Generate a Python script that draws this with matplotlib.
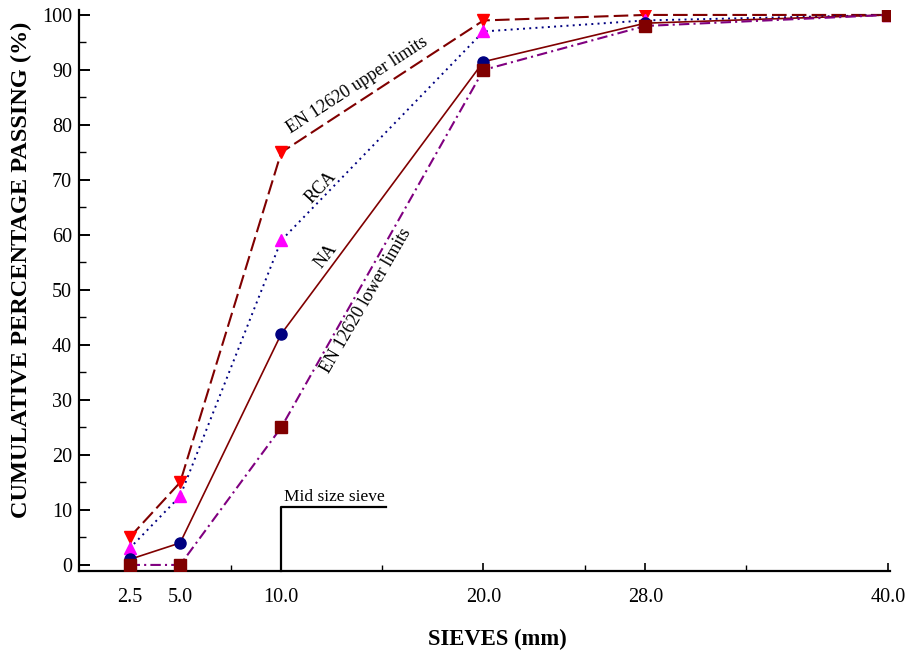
import matplotlib
matplotlib.use("Agg")
import matplotlib.pyplot as plt

sieves = [2.5, 5.0, 10.0, 20.0, 28.0, 40.0]
upper_limits = [5, 15, 75, 99, 100, 100]
rca = [3, 12.5, 59, 97, 99, 100]
na = [1, 4, 42, 91.5, 98.5, 100]
lower_limits = [0, 0, 25, 90, 98, 100]
x_tick_labels = ["2.5", "5.0", "10.0", "20.0", "28.0", "40.0"]
x_minor = [7.5, 15, 25, 33]
y_ticks = list(range(0, 101, 10))

plt.rcParams['font.family'] = ['Liberation Serif', 'DejaVu Serif']

fig = plt.figure(figsize=(9.1, 6.53), dpi=100)
ax = fig.add_axes([0.0868, 0.1256, 0.8912, 0.8591])

ax.plot(sieves, upper_limits, color='#800000', linestyle=(0, (7, 2.5)), lw=1.5,
        marker='v', markersize=8, markerfacecolor='#FF0000', markeredgecolor='#FF0000', zorder=3)
ax.plot(sieves, rca, color='#000080', linestyle=(0, (1, 2.2)), lw=1.4,
        marker='^', markersize=8, markerfacecolor='#FF00FF', markeredgecolor='#FF00FF', zorder=3)
ax.plot(sieves, na, color='#800000', linestyle='-', lw=1.2,
        marker='o', markersize=8, markerfacecolor='#000080', markeredgecolor='#000080', zorder=4)
ax.plot(sieves, lower_limits, color='#800080', linestyle=(0, (5, 2, 1, 2)), lw=1.5,
        marker='s', markersize=8, markerfacecolor='#800000', markeredgecolor='#800000', zorder=5)

# Mid size sieve marker
ax.plot([10, 10, 15.2], [-1.1, 10.5, 10.5], color='black', lw=1.6, clip_on=False, zorder=2)
ax.text(10.12, 10.9, "Mid size sieve", fontsize=12.5, ha='left', va='bottom')

# Curve labels
ax.text(13.75, 87.2, "EN 12620 upper limits", fontsize=13, rotation=33,
        ha='center', va='center', rotation_mode='anchor')
ax.text(11.96, 68.7, "RCA", fontsize=13, rotation=47, ha='center', va='center', rotation_mode='anchor')
ax.text(12.2, 56.2, "NA", fontsize=13, rotation=52, ha='center', va='center', rotation_mode='anchor')
ax.text(14.2, 48.0, "EN 12620 lower limits", fontsize=13, rotation=60,
        ha='center', va='center', rotation_mode='anchor')

ax.set_xlim(0, 40.1)
ax.set_ylim(-1.1, 100.9)

ax.set_xticks(sieves)
ax.set_xticklabels(x_tick_labels)
ax.set_xticks(x_minor, minor=True)
ax.set_yticks(y_ticks)
ax.set_yticks([v + 5 for v in y_ticks[:-1]], minor=True)

ax.tick_params(axis='x', which='major', direction='in', length=6, width=1.2, labelsize=14.5, pad=12)
ax.tick_params(axis='x', which='minor', direction='in', length=4, width=1.0)
ax.tick_params(axis='y', which='major', direction='in', length=8, width=1.4, labelsize=14.5, pad=5)
ax.tick_params(axis='y', which='minor', direction='in', length=5, width=1.0)

for s in ['top', 'right']:
    ax.spines[s].set_visible(False)
for s in ['left', 'bottom']:
    ax.spines[s].set_linewidth(1.6)

ax.set_xlabel("SIEVES (mm)", fontsize=16.3, fontweight='bold')
ax.set_ylabel("CUMULATIVE PERCENTAGE PASSING (%)", fontsize=17.5, fontweight='bold')
ax.xaxis.set_label_coords(0.516, -0.104)
ax.yaxis.set_label_coords(-0.058, 0.536)

fig.savefig("out.png", dpi=100)
